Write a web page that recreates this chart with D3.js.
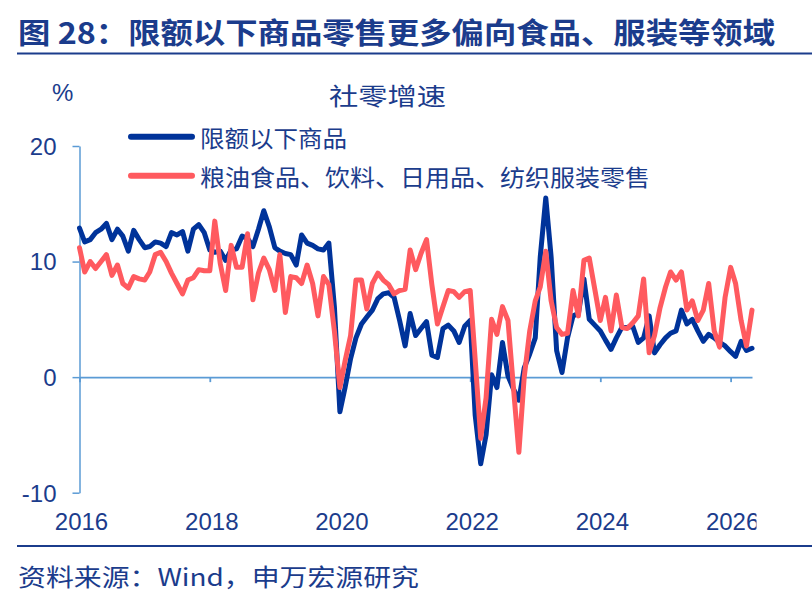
<!DOCTYPE html>
<html>
<head>
    <meta charset="utf-8">
    <script src="https://d3js.org/d3.v7.min.js"></script>
    <style>
        body { margin: 0; background: #fff; }
        text { font-family: "Noto Sans CJK SC", "Liberation Sans", sans-serif; fill: #1b3c8c; }
        .num text, text.num { font-family: "Liberation Sans", Arial, sans-serif; }
        .series { fill: none; stroke-width: 5; stroke-linejoin: round; stroke-linecap: round; }
    </style>
</head>
<body>
    <svg width="812" height="596"></svg>

    <script>
        // monthly values, Feb 2016 onwards
        const smallBiz = [
            12.9, 11.7, 11.9, 12.5, 12.8, 13.3, 11.9, 12.8, 12.2, 10.9,
            12.7, 11.9, 11.2, 11.3, 11.7, 11.6, 11.3, 12.5, 12.3, 12.6,
            10.9, 12.8, 13.2, 12.5, 11.0, 10.8, 10.9, 10.1, 11.0, 11.1,
            12.2, 12.0, 11.3, 12.8, 14.4, 13.0, 11.2, 10.9, 10.7, 10.6,
            9.7, 12.3, 11.6, 11.4, 11.1, 11.0, 11.6, 6.1, -3.0, -0.9,
            1.6, 3.4, 4.6, 5.2, 5.8, 6.8, 7.2, 7.3, 6.9, 4.9,
            2.7, 5.5, 3.6, 4.2, 4.8, 1.9, 1.7, 4.2, 4.5, 4.0,
            3.0, 4.4, 4.9, -3.3, -7.5, -5.0, 0.2, -0.9, 3.0, 0.1,
            -1.0, -2.0, 0.8, 2.0, 3.4, 10.4, 15.5, 10.4, 2.3, 0.4,
            3.4, 5.3, 5.5, 8.5, 5.0, 4.5, 4.0, 3.2, 2.4, 3.4,
            4.3, 4.3, 4.4, 3.0, 3.4, 5.3, 2.1, 2.8, 3.4, 3.8,
            4.0, 5.8, 4.6, 5.0, 4.0, 3.1, 3.7, 3.4, 3.0, 2.7,
            2.2, 1.8, 3.1, 2.3, 2.5
        ];
        const foodCloth = [
            11.2, 9.1, 10.0, 9.4, 10.0, 10.6, 8.8, 9.7, 8.1, 7.7,
            8.7, 8.5, 8.4, 9.1, 10.6, 10.8, 10.0, 9.0, 8.1, 7.2,
            8.4, 8.6, 9.3, 9.2, 9.2, 13.5, 9.8, 7.5, 11.4, 9.5,
            9.5, 12.4, 6.7, 9.0, 10.3, 9.3, 7.5, 10.6, 5.6, 8.7,
            8.6, 8.1, 9.7, 8.1, 5.3, 8.7, 8.0, 4.0, -0.9, 1.4,
            3.6, 8.4, 8.4, 5.9, 8.1, 9.0, 8.4, 8.0, 7.2, 7.5,
            7.6, 11.0, 9.3, 10.7, 11.9, 8.0, 4.6, 6.1, 7.5, 7.4,
            6.9, 7.4, 7.5, 1.5, -5.3, -1.8, 5.0, 3.7, 6.1, 4.9,
            -0.8, -6.5, 0.0, 4.0, 6.6, 7.8, 10.9, 6.6, 4.3, 3.7,
            3.8, 7.5, 5.3, 10.1, 10.3, 7.6, 4.9, 6.9, 4.0, 7.1,
            4.3, 4.2, 4.7, 5.3, 8.5, 2.1, 3.6, 6.0, 7.8, 9.1,
            8.4, 9.1, 5.8, 6.6, 4.9, 5.8, 8.1, 4.0, 2.6, 6.9,
            9.5, 8.1, 4.9, 2.7, 5.8
        ];
        const seriesNames = ["限额以下商品", "粮油食品、饮料、日用品、纺织服装零售"];
        const seriesColors = ["#00339a", "#ff5a5f"];
        const tickYears = [2016, 2018, 2020, 2022, 2024, 2026];
        const yTicks = [-10, 0, 10, 20];

        const months = d3.timeMonth.range(new Date(2016, 1, 1), new Date(2026, 5, 2));

        const svg = d3.select("svg");
        const left = 79.5, right = 752;

        const x = d3.scaleTime()
            .domain([new Date(2016, 1, 1), new Date(2026, 5, 1)])
            .range([left, right]);
        const y = d3.scaleLinear().domain([-10, 20]).range([492.7, 146]);

        // header
        svg.append("text")
            .attr("x", 18).attr("y", 44)
            .attr("font-size", 29).attr("font-weight", "bold")
            .attr("textLength", 757).attr("lengthAdjust", "spacingAndGlyphs")
            .text("图 28：限额以下商品零售更多偏向食品、服装等领域");
        svg.append("line")
            .attr("x1", 17).attr("x2", 812).attr("y1", 53.5).attr("y2", 53.5)
            .attr("stroke", "#1b3c8c").attr("stroke-width", 2.2);

        svg.append("text")
            .attr("x", 329).attr("y", 105)
            .attr("font-size", 24)
            .attr("textLength", 117).attr("lengthAdjust", "spacingAndGlyphs")
            .text("社零增速");
        svg.append("text").attr("class", "num")
            .attr("x", 52).attr("y", 101)
            .attr("font-size", 24)
            .text("%");

        // legend
        const legend = svg.append("g");
        const legW = [147, 450];
        seriesNames.forEach((name, i) => {
            const ly = 136.7 + i * 39;
            legend.append("line")
                .attr("x1", 131).attr("x2", 192).attr("y1", ly).attr("y2", ly)
                .attr("stroke", seriesColors[i]).attr("stroke-width", 6)
                .attr("stroke-linecap", "round");
            legend.append("text")
                .attr("x", 200).attr("y", ly + 10)
                .attr("font-size", 23)
                .attr("textLength", legW[i]).attr("lengthAdjust", "spacingAndGlyphs")
                .text(name);
        });

        // y axis (plain hyphen for negatives, as in the source)
        const yAxis = svg.append("g")
            .attr("class", "num")
            .attr("transform", `translate(${left},0)`)
            .call(d3.axisLeft(y).tickValues(yTicks).tickSize(7).tickSizeOuter(0).tickPadding(16)
                .tickFormat(d => String(d)));
        yAxis.selectAll("path, line").attr("stroke", "#5b9bd5").attr("stroke-width", 1.5);
        yAxis.selectAll("text").attr("font-size", 24).attr("fill", "#1b3c8c").attr("dy", "0.35em");

        // zero line with ticks
        const tickDates = tickYears.map(yr => new Date(yr, 1, 1));
        const zeroAxis = svg.append("g")
            .attr("transform", `translate(0,${y(0)})`)
            .call(d3.axisBottom(x).tickValues(tickDates).tickSize(5).tickSizeOuter(0).tickFormat(""));
        zeroAxis.selectAll("path, line").attr("stroke", "#5b9bd5").attr("stroke-width", 1.8);

        // year labels under the plot, cut at the right edge
        svg.append("clipPath").attr("id", "lblclip")
            .append("rect").attr("x", 0).attr("y", 0).attr("width", 755).attr("height", 596);
        const xLabels = svg.append("g")
            .attr("class", "num")
            .attr("clip-path", "url(#lblclip)")
            .attr("transform", `translate(1.5,${y(-10)})`)
            .call(d3.axisBottom(x).tickValues(tickDates).tickSize(0).tickPadding(20)
                .tickFormat(d3.timeFormat("%Y")));
        xLabels.select(".domain").remove();
        xLabels.selectAll("text").attr("font-size", 24).attr("fill", "#1b3c8c");

        // lines
        const line = d3.line()
            .x((d, i) => x(months[i]))
            .y(d => y(d));
        [smallBiz, foodCloth].forEach((vals, i) => {
            svg.append("path")
                .datum(vals)
                .attr("class", "series")
                .attr("stroke", seriesColors[i])
                .attr("d", line);
        });

        // footer
        svg.append("line")
            .attr("x1", 17).attr("x2", 812).attr("y1", 546).attr("y2", 546)
            .attr("stroke", "#1b3c8c").attr("stroke-width", 2);
        svg.append("text")
            .attr("x", 18).attr("y", 586)
            .attr("font-size", 24)
            .attr("textLength", 401).attr("lengthAdjust", "spacingAndGlyphs")
            .text("资料来源：Wind，申万宏源研究");
    </script>
</body>
</html>
